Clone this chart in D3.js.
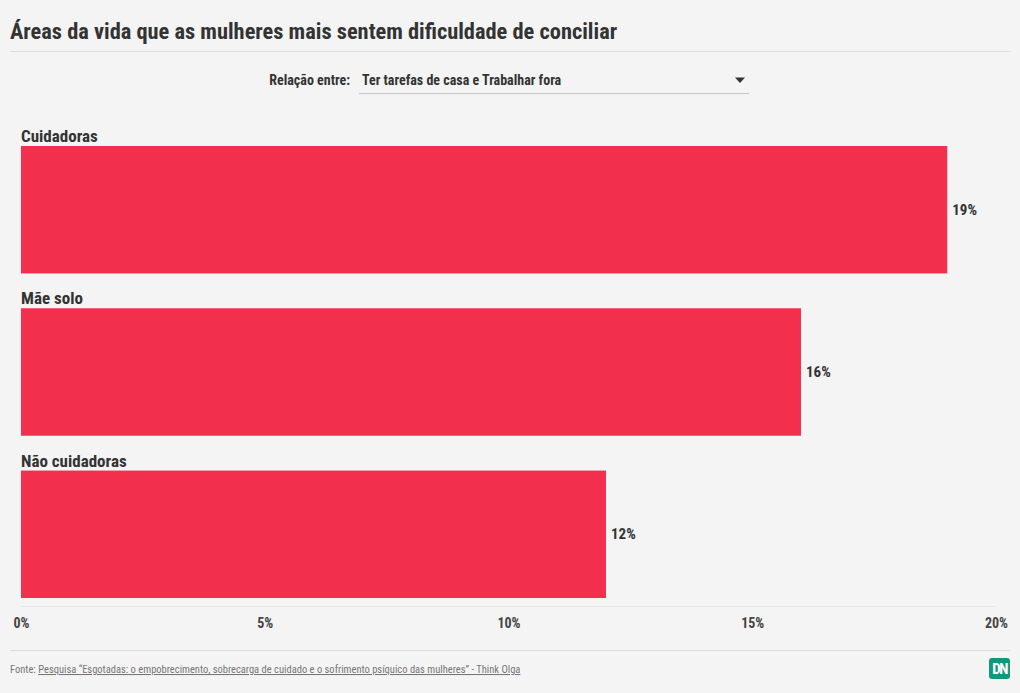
<!DOCTYPE html>
<html><head><meta charset="utf-8">
<script src="https://cdn.jsdelivr.net/npm/d3@7"></script>
<style>
html,body{margin:0;padding:0;background:#f4f4f4;}
svg{display:block;font-family:"Roboto Condensed","Liberation Sans Narrow",Roboto,sans-serif;font-stretch:condensed;}
svg text{font-stretch:condensed;}
</style></head>
<body><svg id="c" width="1020" height="693"></svg>
<script>
const title = "Áreas da vida que as mulheres mais sentem dificuldade de conciliar";
const selectorLabel = "Relação entre:";
const selectorValue = "Ter tarefas de casa e Trabalhar fora";
const categories = ["Cuidadoras", "Mãe solo", "Não cuidadoras"];
const values = [19, 16, 12];
const ticks = [0, 5, 10, 15, 20];
const sourcePrefix = "Fonte: ";
const sourceText = "Pesquisa “Esgotadas: o empobrecimento, sobrecarga de cuidado e o sofrimento psíquico das mulheres” - Think Olga";

const FONT = '"Roboto Condensed","Liberation Sans Narrow",Roboto,sans-serif';
const svg = d3.select("#c");
const barColor = "#f2304e";
const textColor = "#333";

svg.append("text").attr("x",10).attr("y",39).attr("font-size",22.4).attr("font-weight",700)
  .attr("fill",textColor).text(title);
svg.append("line").attr("x1",10).attr("x2",1010).attr("y1",51.5).attr("y2",51.5).attr("stroke","#dcdcdc");

// selector
svg.append("text").attr("x",350).attr("y",85).attr("text-anchor","end").attr("font-size",14)
  .attr("font-weight",700).attr("fill",textColor).text(selectorLabel);
svg.append("text").attr("x",362).attr("y",85).attr("font-size",14)
  .attr("font-weight",700).attr("fill",textColor).text(selectorValue);
svg.append("line").attr("x1",359).attr("x2",749).attr("y1",93.5).attr("y2",93.5).attr("stroke","#c4c4c4");
svg.append("path").attr("d","M735,77.5 L745,77.5 L740,83 Z").attr("fill","#333");

const x = d3.scaleLinear().domain([0,20]).range([21,996]);
const y = d3.scaleBand().domain(categories).range([146,598]).paddingInner(35/(163)).paddingOuter(0);

svg.append("line").attr("x1",21).attr("x2",996).attr("y1",606.5).attr("y2",606.5).attr("stroke","#e8e8e8");

const g = svg.append("g");
g.selectAll("rect").data(categories).join("rect")
  .attr("x",x(0)).attr("y",d=>y(d)).attr("width",(d,i)=>x(values[i])-x(0)).attr("height",y.bandwidth())
  .attr("fill",barColor);
g.selectAll("text.cat").data(categories).join("text").attr("class","cat")
  .attr("x",21).attr("y",d=>y(d)-4).attr("font-size",17).attr("font-weight",700).attr("fill",textColor).text(d=>d);
g.selectAll("text.val").data(categories).join("text").attr("class","val")
  .attr("x",(d,i)=>x(values[i])+5).attr("y",d=>y(d)+y.bandwidth()/2+5).attr("font-size",15)
  .attr("font-weight",700).attr("fill",textColor).text((d,i)=>values[i]+"%");

const axis = d3.axisBottom(x).tickValues(ticks).tickFormat(d=>d+"%").tickSize(0).tickPadding(0);
const ax = svg.append("g").attr("transform","translate(0,614)").call(axis)
  .attr("font-family",FONT).attr("font-size",14);
ax.select(".domain").remove();
ax.selectAll("text").attr("font-weight",700).attr("fill","#444").attr("dy","1.0em");

svg.append("line").attr("x1",10).attr("x2",1010).attr("y1",650.5).attr("y2",650.5).attr("stroke","#dcdcdc");
const src = svg.append("text").attr("x",10).attr("y",673).attr("font-size",10.5).attr("fill","#777");
src.append("tspan").text(sourcePrefix);
src.append("tspan").attr("text-decoration","underline").text(sourceText);

// logo
const lg = svg.append("g").attr("transform","translate(989,658)");
lg.append("rect").attr("width",21).attr("height",21).attr("rx",3).attr("fill","#13977c");
lg.append("text").attr("x",10.5).attr("y",16).attr("text-anchor","middle").attr("font-size",15)
  .attr("font-weight",700).attr("fill","#fff").attr("letter-spacing",-1.5).text("DN");
</script></body></html>
